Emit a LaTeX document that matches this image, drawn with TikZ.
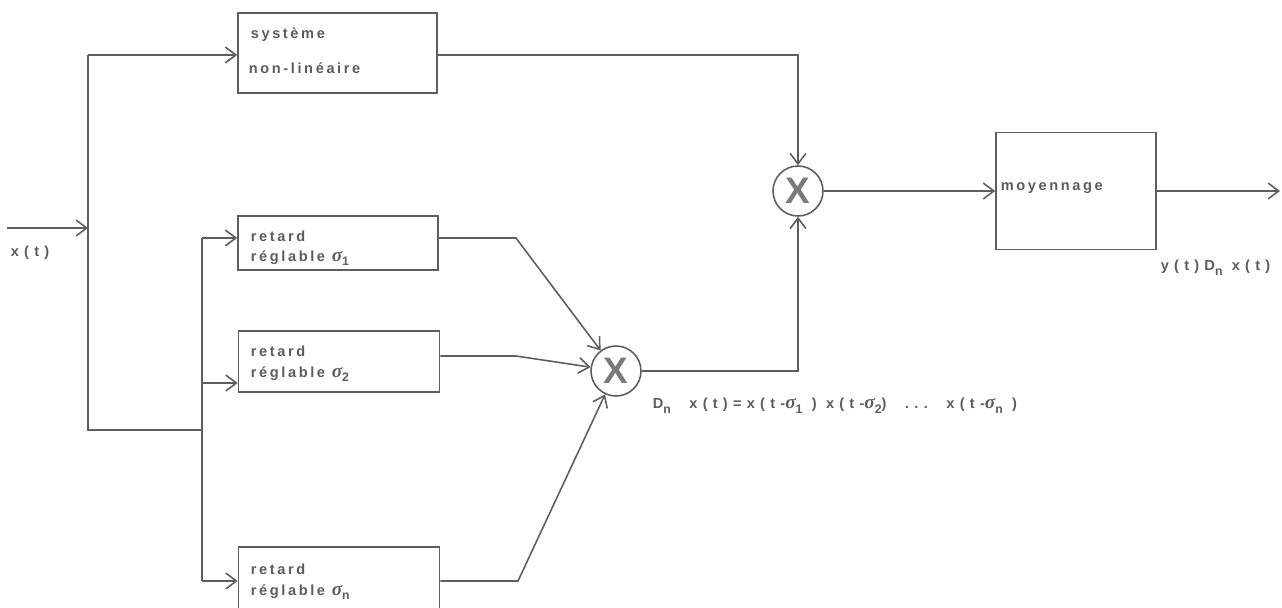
\documentclass[tikz,border=0pt]{standalone}
\usepackage{fontspec}
\newfontfamily\lbl[LetterSpace=18]{Liberation Sans}
\newfontfamily\lblw[LetterSpace=36]{Liberation Sans}
\newfontfamily\xfont{Liberation Sans}
\newfontfamily\sgfont{Liberation Serif}
\usetikzlibrary{arrows.meta}
\definecolor{ink}{HTML}{5E5E5E}
\definecolor{txt}{HTML}{5C5C5C}
\definecolor{xcol}{HTML}{7A7A7A}
\newcommand{\lowsub}[1]{\raisebox{-0.6ex}{\fontsize{7}{8}\selectfont #1}}
\newcommand{\sg}{{\sgfont\bfseries\itshape\fontsize{11}{11}\selectfont σ}}
\begin{document}
\begin{tikzpicture}[x=0.02cm,y=-0.02cm,
  line width=0.9pt, color=ink,
  >={Straight Barb[length=6pt,width=9pt,line width=0.9pt]},
  blk/.style={draw=ink, line width=0.9pt, rectangle, inner sep=0pt},
  mult/.style={draw=ink, line width=0.9pt, circle, minimum size=50*0.02cm, inner sep=0pt,
    font=\xfont\bfseries\fontsize{21}{21}\selectfont, text=xcol},
  lab/.style={inner sep=0pt, anchor=west, text=txt, font=\lbl\bfseries\fontsize{8.3}{10}\selectfont},
  labw/.style={lab, font=\lblw\bfseries\fontsize{8.3}{10}\selectfont}]
\clip (0,0) rectangle (1282,608);
% boxes
\node[blk, minimum width=199*0.02cm, minimum height=80*0.02cm] (sys) at (337.5,53) {};
\node[blk, minimum width=200*0.02cm, minimum height=54*0.02cm] (r1) at (338,243) {};
\node[blk, minimum width=201*0.02cm, minimum height=61*0.02cm] (r2) at (339,361.5) {};
\node[blk, minimum width=201*0.02cm, minimum height=66*0.02cm] (rn) at (339,580) {};
\node[blk, minimum width=160*0.02cm, minimum height=117*0.02cm] (moy) at (1076,191) {};
\node[mult] (m1) at (616,371) {X};
\node[mult] (m2) at (798,191) {X};
% texts in boxes
\node[lab] (t1) at (250,35) {système};
\node[lab] (t2) at (248,68) {non-linéaire};
\node[lab] (t3) at (250,236) {retard};
\node[lab] (t4) at (250,258) {réglable \sg\lowsub{1}};
\node[lab] (t5) at (250,351) {retard};
\node[lab] (t6) at (250,374) {réglable \sg\lowsub{2}};
\node[lab] (t7) at (250,569) {retard};
\node[lab] (t8) at (250,592) {réglable \sg\lowsub{n}};
\node[lab] (t9) at (1000,188) {moyennage};
% other labels
\node[labw] (lx) at (10,253) {x(t)};
\node[labw] (ly) at (1160,268) {y(t)D\lowsub{n} x(t)};
\node[labw] (ld) at (652,406) {D\lowsub{n}\ \ x(t)=x(t-\sg\lowsub{1}\ ) x(t-\sg\lowsub{2})\ \ ...\ \ x(t-\sg\lowsub{n}\ )};
% coordinates
\coordinate (in) at (7,228);
\coordinate (ja) at (88,228);
\coordinate (jt) at (88,55);
\coordinate (jb) at (88,430);
\coordinate (jc) at (202,430);
\coordinate (kt) at (202,238);
\coordinate (km) at (202,383);
\coordinate (kb) at (202,581);
\coordinate (k1) at (516,238);
\coordinate (k2) at (516,356);
\coordinate (kn) at (518,581);
\coordinate (out) at (1280,191);
% connectors
\draw[->] (in) -- (ja);
\draw (jt) -- (jb) -- (jc);
\draw[->] (jt) -- (sys.west |- jt);
\draw (kt) -- (kb);
\draw[->] (kt) -- (r1.west |- kt);
\draw[->] (km) -- (r2.west |- km);
\draw[->] (kb) -- (rn.west |- kb);
\draw[->] (r1.east |- k1) -- (k1) -- (m1);
\draw[->] (r2.east |- k2) -- (k2) -- (m1);
\draw[->] (rn.east |- kn) -- (kn) -- (m1);
\draw[->] (m1.east) -| (m2.south);
\draw[->] (sys.east |- jt) -| (m2.north);
\draw[->] (m2.east) -- (moy.west);
\draw[->] (moy.east) -- (out);
\end{tikzpicture}
\end{document}
